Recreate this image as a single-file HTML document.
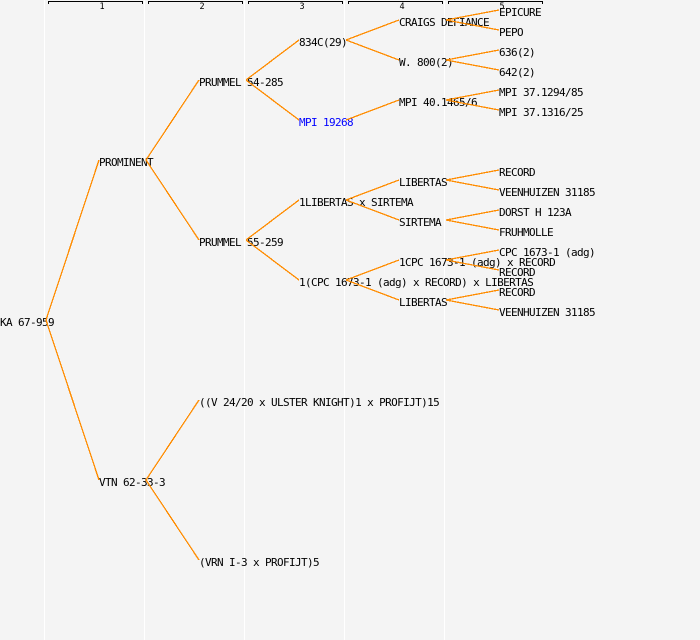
<!DOCTYPE html>
<html>
<head>
<meta charset="utf-8">
<style>
html,body{margin:0;padding:0;background:#f4f4f4}
svg{display:block}
text{font-family:"DejaVu Sans Mono","Liberation Mono",monospace;font-size:11px;letter-spacing:-.62px;fill:#000}
.h{font-size:8.5px;letter-spacing:0;text-anchor:middle}
</style>
</head>
<body>
<svg width="700" height="640" viewBox="0 0 700 640" xmlns="http://www.w3.org/2000/svg">
<rect width="700" height="640" fill="#f4f4f4"/>
<g stroke="#fff" stroke-width="1" shape-rendering="crispEdges">
<path d="M44.5 0V640M144.5 0V640M244.5 0V640M344.5 0V640M444.5 0V640"/>
</g>
<g stroke="#000" fill="none" stroke-width="1" shape-rendering="crispEdges">
<path d="M48.5 4V1.5H142.5V4"/>
<path d="M148.5 4V1.5H242.5V4"/>
<path d="M248.5 4V1.5H342.5V4"/>
<path d="M348.5 4V1.5H442.5V4"/>
<path d="M448.5 4V1.5H542.5V4"/>
</g>
<text class="h" x="102" y="9">1</text>
<text class="h" x="202" y="9">2</text>
<text class="h" x="302" y="9">3</text>
<text class="h" x="402" y="9">4</text>
<text class="h" x="502" y="9">5</text>

<text x="0" y="326">KA 67-959</text>
<text x="99" y="166">PROMINENT</text>
<text x="99" y="486">VTN 62-33-3</text>
<text x="199" y="86">PRUMMEL 54-285</text>
<text x="199" y="246">PRUMMEL 55-259</text>
<text x="199" y="406">((V 24/20 x ULSTER KNIGHT)1 x PROFIJT)15</text>
<text x="199" y="566">(VRN I-3 x PROFIJT)5</text>
<text x="299" y="46">834C(29)</text>
<text x="299" y="126" style="fill:#0000ff">MPI 19268</text>
<text x="299" y="206">1LIBERTAS x SIRTEMA</text>
<text x="299" y="286">1(CPC 1673-1 (adg) x RECORD) x LIBERTAS</text>
<text x="399" y="26">CRAIGS DEFIANCE</text>
<text x="399" y="66">W. 800(2)</text>
<text x="399" y="106">MPI 40.1465/6</text>
<text x="399" y="186">LIBERTAS</text>
<text x="399" y="226">SIRTEMA</text>
<text x="399" y="266">1CPC 1673-1 (adg) x RECORD</text>
<text x="399" y="306">LIBERTAS</text>
<text x="499" y="16">EPICURE</text>
<text x="499" y="36">PEPO</text>
<text x="499" y="56">636(2)</text>
<text x="499" y="76">642(2)</text>
<text x="499" y="96">MPI 37.1294/85</text>
<text x="499" y="116">MPI 37.1316/25</text>
<text x="499" y="176">RECORD</text>
<text x="499" y="196">VEENHUIZEN 31185</text>
<text x="499" y="216">DORST H 123A</text>
<text x="499" y="236">FRUHMOLLE</text>
<text x="499" y="256">CPC 1673-1 (adg)</text>
<text x="499" y="276">RECORD</text>
<text x="499" y="296">RECORD</text>
<text x="499" y="316">VEENHUIZEN 31185</text>

<g stroke="#ff8c00" stroke-width="1.3" fill="none" shape-rendering="crispEdges">
<path d="M46 320L99 160M46 320L99 480"/>
<path d="M146 160L199 80M146 160L199 240M146 480L199 400M146 480L199 560"/>
<path d="M246 80L299 40M246 80L299 120M246 240L299 200M246 240L299 280"/>
<path d="M346 40L399 20M346 40L399 60M346 120L399 100M346 200L399 180M346 200L399 220M346 280L399 260M346 280L399 300"/>
<path d="M446 20L499 10M446 20L499 30M446 60L499 50M446 60L499 70M446 100L499 90M446 100L499 110M446 180L499 170M446 180L499 190M446 220L499 210M446 220L499 230M446 260L499 250M446 260L499 270M446 300L499 290M446 300L499 310"/>
</g>
</svg>
</body>
</html>
